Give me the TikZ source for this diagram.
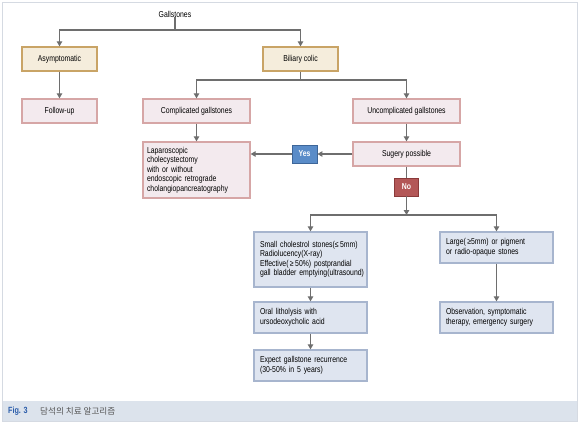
\documentclass[tikz,border=0pt]{standalone}
\usepackage{fontspec}
\setmainfont{Liberation Sans}[FakeStretch=0.80]
\newfontfamily\krfont{Noto Sans CJK KR}
\usetikzlibrary{arrows.meta,shadows}
\definecolor{framec}{HTML}{D5DAE2}
\definecolor{capbg}{HTML}{DCE3EC}
\definecolor{capblue}{HTML}{2A5CAA}
\definecolor{capgray}{HTML}{555555}
\definecolor{linec}{HTML}{6E6E6E}
\definecolor{tanfill}{HTML}{F5EDDC}
\definecolor{tanbord}{HTML}{C9A466}
\definecolor{tanshad}{HTML}{A98447}
\definecolor{pinkfill}{HTML}{F3EAEE}
\definecolor{pinkbord}{HTML}{D6A6A6}
\definecolor{pinkshad}{HTML}{B98383}
\definecolor{bluefill}{HTML}{DFE5F0}
\definecolor{bluebord}{HTML}{A7B5CE}
\definecolor{blueshad}{HTML}{8394B3}
\definecolor{yesfill}{HTML}{5A8CC8}
\definecolor{yesbord}{HTML}{3D6699}
\definecolor{nofill}{HTML}{B35757}
\definecolor{nobord}{HTML}{8A3A3A}
\tikzset{
  base/.style={font=\fontsize{8.6}{9.5}\selectfont, inner sep=0pt, line width=1.3pt},
  tanbox/.style={base, draw=tanbord, fill=tanfill, drop shadow={shadow xshift=1.2pt, shadow yshift=-1.2pt, fill=tanshad, opacity=1}},
  pinkbox/.style={base, draw=pinkbord, fill=pinkfill, drop shadow={shadow xshift=1.2pt, shadow yshift=-1.2pt, fill=pinkshad, opacity=1}},
  bluebox/.style={base, draw=bluebord, fill=bluefill, drop shadow={shadow xshift=1.2pt, shadow yshift=-1.2pt, fill=blueshad, opacity=1}},
  blueleft/.style={bluebox, minimum width=113, text width=101, inner xsep=6pt, align=left},
  tag/.style={font=\fontsize{8.6}{9}\selectfont\bfseries, text=white, inner sep=0pt, line width=0.8pt, minimum width=25, minimum height=18},
  conn/.style={draw=linec, line width=1.1pt},
  arr/.style={conn, -{Triangle[length=5pt,width=5.5pt]}},
}
\begin{document}
\begin{tikzpicture}[x=1pt,y=-1pt]
\useasboundingbox (0,0) rectangle (580,423);
% frame and caption band
\fill[capbg] (2.5,401) rectangle (577.5,421.5);
\draw[framec, line width=0.8pt] (2.5,2.5) rectangle (577.5,421.5);
\node[anchor=west, inner sep=0pt, font=\fontsize{9}{10}\selectfont\bfseries, text=capblue] (fig) at (8,411) {Fig. 3};
\node[anchor=west, inner sep=0pt, font=\krfont\fontsize{8.6}{10}\selectfont, text=capgray] (cap) at (40,411) {담석의 치료 알고리즘};

% nodes
\node[base, line width=0pt] (g) at (175,14) {Gallstones};
\node[tanbox, minimum width=75, minimum height=24] (asym) at (59.5,59) {Asymptomatic};
\node[tanbox, minimum width=75, minimum height=24] (bil) at (300.5,59) {Biliary colic};
\node[pinkbox, minimum width=75, minimum height=24] (fol) at (59.5,111) {Follow-up};
\node[pinkbox, minimum width=107, minimum height=24] (comp) at (196.5,111) {Complicated gallstones};
\node[pinkbox, minimum width=107, minimum height=24] (unc) at (406.5,111) {Uncomplicated gallstones};
\node[pinkbox, minimum width=107, minimum height=56, text width=99, inner xsep=4pt, align=left] (lap) at (196.5,170) {Laparoscopic\\cholecystectomy\\with or without\\endoscopic retrograde\\\mbox{cholangiopancreatography}};
\node[pinkbox, minimum width=107, minimum height=24] (sug) at (406.5,154) {Sugery possible};
\node[tag, draw=yesbord, fill=yesfill] (yes) at (304.5,154) {Yes};
\node[tag, draw=nobord, fill=nofill, minimum width=24] (no) at (406.5,187) {No};
\node[blueleft, minimum height=55] (small) at (310.5,259.5) {\mbox{Small cholestrol stones(≤\,5mm)}\\Radiolucency(X-ray)\\\mbox{Effective(\,≥\,50\%) postprandial}\\\mbox{gall bladder emptying(ultrasound)}};
\node[blueleft, minimum height=31] (large) at (496.5,247.5) {\mbox{Large(\,≥5mm) or pigment}\\\mbox{or radio-opaque stones}};
\node[blueleft, minimum height=31] (oral) at (310.5,317.5) {Oral litholysis with\\ursodeoxycholic acid};
\node[blueleft, minimum height=31] (obs) at (496.5,317.5) {\mbox{Observation, symptomatic}\\\mbox{therapy, emergency surgery}};
\node[blueleft, minimum height=31] (exp) at (310.5,365.5) {\mbox{Expect gallstone recurrence}\\\mbox{(30-50\% in 5 years)}};

% junctions
\coordinate (j1) at (175,30);
\coordinate (j2) at (300.5,80);
\coordinate (j3) at (406.5,215);

% connectors
\draw[conn] (g.south) -- (j1);
\draw[arr] (j1) -| (asym.north);
\draw[arr] (j1) -| (bil.north);
\draw[arr] (asym.south) -- (fol.north);
\draw[conn] (bil.south) -- (j2);
\draw[arr] (j2) -| (comp.north);
\draw[arr] (j2) -| (unc.north);
\draw[arr] (comp.south) -- (lap.north);
\draw[arr] (unc.south) -- (sug.north);
\draw[arr] (sug.west) -- (yes.east);
\draw[arr] (yes.west) -- (yes.west -| lap.east);
\draw[conn] (sug.south) -- (no.north);
\draw[arr] (no.south) -- (j3);
\draw[arr] (j3) -| (small.north);
\draw[arr] (j3) -| (large.north);
\draw[arr] (small.south) -- (oral.north);
\draw[arr] (oral.south) -- (exp.north);
\draw[arr] (large.south) -- (obs.north);
\end{tikzpicture}
\end{document}
